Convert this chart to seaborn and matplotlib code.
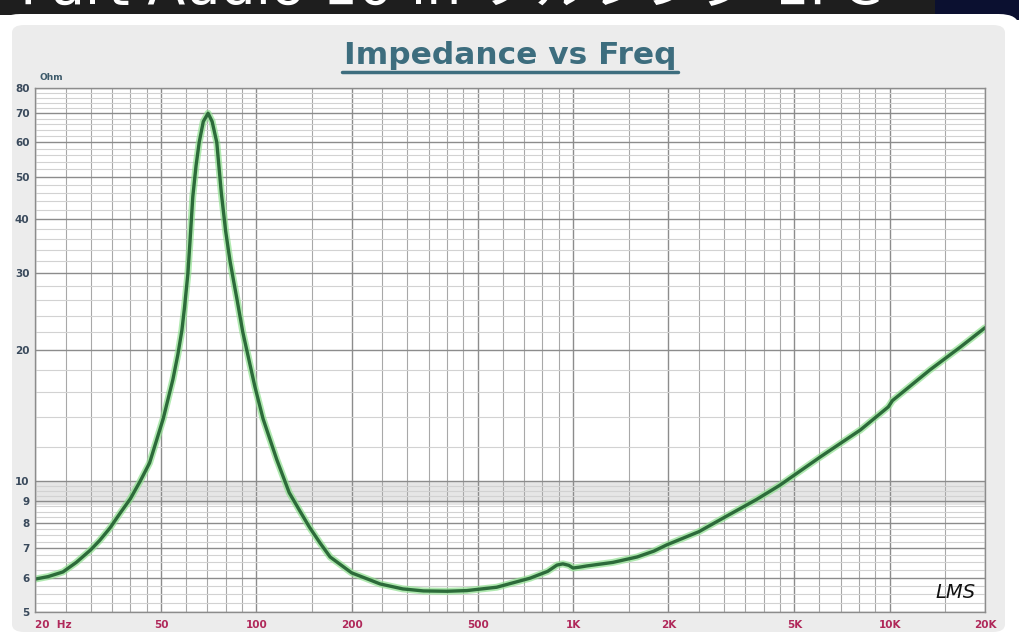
import numpy as np
import matplotlib
matplotlib.use("Agg")
import matplotlib.pyplot as plt
from matplotlib.patches import FancyBboxPatch, Rectangle
import seaborn as sns
import pandas as pd

# Courbe d'impédance (Hz, Ohm)
freq = [20, 22, 24.5, 27, 30, 32, 34.5, 37.2, 40, 43, 46, 50.8, 54.5, 56.5, 58.2, 59.3, 60.8,
        61.8, 63, 64.5, 66, 68, 70.4, 72.5, 75, 77.5, 80, 82.6, 85, 87, 90.6, 98.9, 105, 116,
        127, 137, 147, 159, 171, 200, 225, 246, 290, 337, 400, 462, 574, 732, 832, 890,
        929, 970, 1000, 1050, 1106, 1335, 1594, 1800, 1975, 2500, 2980, 3800, 4500, 6040,
        8080, 9900, 10200, 13400, 16700, 20000]
impedance = [5.95, 6.03, 6.18, 6.5, 6.95, 7.3, 7.8, 8.45, 9.1, 10.0, 11.0, 13.9, 17.1, 19.5, 22.2,
             25.0, 30.0, 36.0, 45.0, 53.0, 60.0, 67.0, 70.0, 67.0, 60.0, 46.0, 37.5, 32.0, 28.5,
             26.0, 22.0, 16.5, 13.9, 11.2, 9.4, 8.55, 7.84, 7.2, 6.69, 6.15, 5.95, 5.8, 5.65, 5.59,
             5.58, 5.6, 5.7, 5.98, 6.2, 6.41, 6.45, 6.4, 6.31, 6.34, 6.38, 6.5, 6.69, 6.9,
             7.13, 7.65, 8.22, 9.07, 9.78, 11.36, 13.1, 14.8, 15.3, 18.0, 20.3, 22.5]

x_ticks = [20, 50, 100, 200, 500, 1000, 2000, 5000, 10000, 20000]
x_labels = ["20  Hz", "50", "100", "200", "500", "1K", "2K", "5K", "10K", "20K"]
y_ticks = [5, 6, 7, 8, 9, 10, 20, 30, 40, 50, 60, 70, 80]
y_labels = ["5", "6", "7", "8", "9", "10", "20", "30", "40", "50", "60", "70", "80"]

df = pd.DataFrame({"freq": freq, "ohm": impedance})

sns.set_theme(style="white")
plt.rcParams["font.family"] = ["DejaVu Sans"]

W, H = 1019, 639
fig = plt.figure(figsize=(W / 100, H / 100), dpi=100, facecolor="white")

# bandeau sombre de la capture d'écran en haut
fig.patches.append(Rectangle((0, 1 - 15 / H), 1, 15 / H, transform=fig.transFigure,
                             facecolor="#1e1e1e", edgecolor="none", zorder=0))
fig.patches.append(Rectangle((935 / W, 1 - 20 / H), 84 / W, 20 / H, transform=fig.transFigure,
                             facecolor="#0b1030", edgecolor="none", zorder=0))
fig.text(20 / W, 1 - 4 / H, "Part Audio 10 in フルレンジ 1PC", color="white", fontsize=40,
         va="baseline", ha="left", family=["DejaVu Sans", "Noto Sans CJK JP"], zorder=0.5)
fig.patches.append(FancyBboxPatch((0, 0), 1, 1 - 14 / H, transform=fig.transFigure,
                                  boxstyle="round,pad=0,rounding_size=0.02",
                                  facecolor="white", edgecolor="none", zorder=1))
fig.patches.append(FancyBboxPatch((12 / W, 7 / H), 993 / W, 607 / H, transform=fig.transFigure,
                                  boxstyle="round,pad=0,rounding_size=0.012",
                                  facecolor="#ececec", edgecolor="none", zorder=2))

ax = fig.add_axes([35 / W, 1 - 612 / H, 950 / W, 524 / H])
ax.set_zorder(10)
ax.set_facecolor("white")
ax.set_xscale("log")
ax.set_yscale("log")
ax.set_xlim(20, 20000)
ax.set_ylim(5, 80)

# grille
ax.axhspan(8.8, 10, color="#e6e6e6", zorder=0, lw=0)
minor_x = []
for dec in [10, 100, 1000, 10000]:
    for m in [1, 1.5, 2, 2.5, 3, 3.5, 4, 4.5, 5, 6, 7, 8, 9]:
        v = dec * m
        if 20 <= v <= 20000 and v not in x_ticks:
            minor_x.append(v)
minor_y = [v for v in np.arange(5, 10, 0.25) if round(v, 2) not in y_ticks] + \
          [v for v in range(12, 80, 2) if v not in y_ticks]
ax.set_xticks(x_ticks)
ax.set_xticklabels(x_labels)
ax.set_xticks(minor_x, minor=True)
ax.set_yticks(y_ticks)
ax.set_yticklabels(y_labels)
ax.set_yticks(minor_y, minor=True)
ax.xaxis.set_minor_formatter(matplotlib.ticker.NullFormatter())
ax.yaxis.set_minor_formatter(matplotlib.ticker.NullFormatter())
ax.grid(which="major", color="#8c8c8c", lw=1.0)
ax.grid(which="minor", axis="x", color="#a8a8a8", lw=0.8)
ax.grid(which="minor", axis="y", color="#d2d2d2", lw=0.8)
ax.set_axisbelow(True)
ax.tick_params(which="both", length=0)
ax.tick_params(axis="x", pad=6, labelsize=7.5, labelcolor="#b0285a")
ax.tick_params(axis="y", pad=4, labelsize=7.5, labelcolor="#3a4a5c")
for lab in ax.get_xticklabels() + ax.get_yticklabels():
    lab.set_fontweight("bold")
ax.get_xticklabels()[0].set_ha("left")
for s in ax.spines.values():
    s.set_color("#8c8c8c")
    s.set_linewidth(1.0)

# courbe: halo vert clair + trait vert foncé
sns.lineplot(data=df, x="freq", y="ohm", ax=ax, color="#8fe08f", lw=5, alpha=0.7,
             sort=False, estimator=None)
sns.lineplot(data=df, x="freq", y="ohm", ax=ax, color="#2c6b3a", lw=2.4,
             sort=False, estimator=None)
for ln in ax.lines:
    ln.set_solid_joinstyle("round")
    ln.set_solid_capstyle("round")
ax.set_xlabel("")
ax.set_ylabel("")

ax.text(0.005, 1.012, "Ohm", transform=ax.transAxes, fontsize=6.5, fontweight="bold",
        color="#3d5a6a", va="bottom", ha="left")
ax.text(0.99, 0.02, "LMS", transform=ax.transAxes, fontsize=14, style="italic",
        color="#111111", ha="right", va="bottom")

fig.text(510 / W, 1 - 55 / H, "Impedance vs Freq", ha="center", va="center",
         fontsize=22.5, fontweight="bold", color="#3d6d7e", zorder=5)
fig.add_artist(plt.Line2D([342 / W, 678 / W], [1 - 72 / H, 1 - 72 / H], color="#3d6d7e",
                          lw=2.5, transform=fig.transFigure, zorder=5))

fig.savefig("out.png", dpi=100, facecolor="white")
